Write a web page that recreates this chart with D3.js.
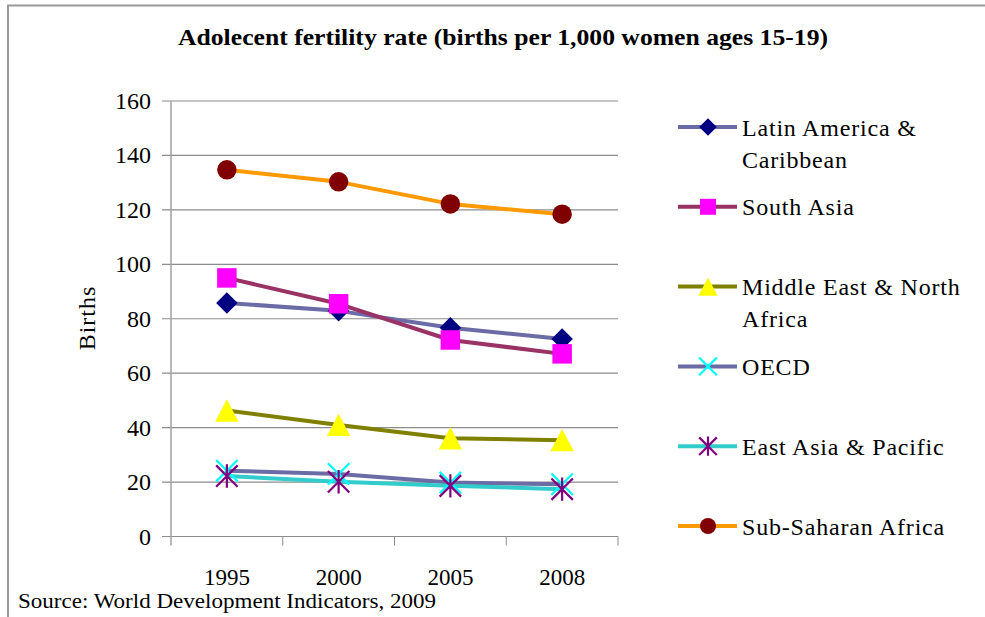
<!DOCTYPE html>
<html><head><meta charset="utf-8">
<script src="https://cdn.jsdelivr.net/npm/d3@7"></script>
</head><body style="margin:0;background:#fff">
<div id="wrap"></div>
<script>
const title = "Adolecent fertility rate (births per 1,000 women ages 15-19)";
const yLabel = "Births";
const source = "Source: World Development Indicators, 2009";
const years = ["1995", "2000", "2005", "2008"];
const yTicks = [0, 20, 40, 60, 80, 100, 120, 140, 160];
const seriesNames = [["Latin America &", "Caribbean"], ["South Asia"], ["Middle East & North", "Africa"], ["OECD"], ["East Asia & Pacific"], ["Sub-Saharan Africa"]];
const latinAmerica = [85.8, 82.9, 76.7, 72.6];
const southAsia = [95.0, 85.5, 72.2, 67.1];
const middleEast = [46.3, 41.0, 36.1, 35.4];
const oecd = [24.2, 23.0, 19.8, 19.2];
const eastAsia = [22.2, 20.1, 18.6, 17.4];
const subSaharan = [134.7, 130.3, 122.2, 118.4];

const styles = [
  {line: "#6b6ba6", fill: "#000080", shape: "diamond"},
  {line: "#993366", fill: "#ff00ff", shape: "square"},
  {line: "#808000", fill: "#ffff00", shape: "triangle"},
  {line: "#6b6ba6", fill: "#00ffff", shape: "x"},
  {line: "#33cccc", fill: "#800080", shape: "asterisk"},
  {line: "#ff9900", fill: "#800000", shape: "circle"}
];
const seriesData = [latinAmerica, southAsia, middleEast, oecd, eastAsia, subSaharan];
const FONT = "Times New Roman";

const svg = d3.select("#wrap").append("svg").attr("width", 985).attr("height", 617)
  .style("display", "block").attr("font-family", FONT);
function txt(parent, size) {
  return parent.append("text").attr("font-family", FONT).attr("font-size", size).attr("fill", "#000");
}
// frame
svg.append("path").attr("d", "M8,617 V5.5 H985").attr("fill", "none").attr("stroke", "#9a9a9a").attr("stroke-width", 2);

const x = d3.scaleBand().domain(years).range([171, 618]).padding(0);
const y = d3.scaleLinear().domain([0, 160]).range([536.5, 101]);

// gridlines
const grid = svg.append("g");
grid.selectAll("line").data(yTicks).join("line")
  .attr("x1", 162).attr("x2", 618).attr("y1", d => y(d)).attr("y2", d => y(d))
  .attr("stroke", "#8c8c8c").attr("stroke-width", 1.2);
// y axis line
svg.append("line").attr("x1", 171).attr("x2", 171).attr("y1", y(160)).attr("y2", y(0) + 9)
  .attr("stroke", "#a0a0a0").attr("stroke-width", 1.5);
yTicks.forEach(t => {
  txt(svg, 24).attr("x", 151).attr("y", y(t) + 8).attr("text-anchor", "end").text(t);
});

// x axis ticks
const bounds = years.map(d => x(d)).concat([x(years[years.length - 1]) + x.bandwidth()]);
svg.selectAll("line.t").data(bounds.slice(1)).join("line").attr("class", "t")
  .attr("x1", d => d).attr("x2", d => d).attr("y1", y(0)).attr("y2", y(0) + 9).attr("stroke", "#8c8c8c");
years.forEach(d => {
  txt(svg, 23).attr("x", x(d) + x.bandwidth() / 2).attr("y", 585).attr("text-anchor", "middle").text(d);
});

// marker path
function markerPath(shape, s) {
  const h = s / 2;
  switch (shape) {
    case "diamond": return `M0,${-h*1.1}L${h*1.1},0L0,${h*1.1}L${-h*1.1},0Z`;
    case "square": return `M${-h},${-h}H${h}V${h}H${-h}Z`;
    case "triangle": return `M0,${-h*1.15}L${h*1.2},${h*1.15}L${-h*1.2},${h*1.15}Z`;
    case "circle": return d3.symbol(d3.symbolCircle, Math.PI * h * h)();
    case "x": return `M${-h*1.1},${-h*1.1}L${h*1.1},${h*1.1}M${-h*1.1},${h*1.1}L${h*1.1},${-h*1.1}`;
    case "asterisk": return `M${-h*1.1},${-h*1.1}L${h*1.1},${h*1.1}M${-h*1.1},${h*1.1}L${h*1.1},${-h*1.1}M0,${-h*1.2}V${h*1.2}`;
  }
}
function drawMarker(g, st, size) {
  const stroked = st.shape === "x" || st.shape === "asterisk";
  g.append("path").attr("d", markerPath(st.shape, size))
    .attr("fill", stroked ? "none" : st.fill)
    .attr("stroke", stroked ? st.fill : "none")
    .attr("stroke-width", stroked ? 2.2 : 0);
}

const line = d3.line().x((d, i) => x(years[i]) + x.bandwidth() / 2).y(d => y(d));
seriesData.forEach((vals, k) => {
  const st = styles[k];
  svg.append("path").datum(vals).attr("d", line).attr("fill", "none")
    .attr("stroke", st.line).attr("stroke-width", 4).attr("stroke-linejoin", "round");
});
seriesData.forEach((vals, k) => {
  const st = styles[k];
  vals.forEach((v, i) => {
    const g = svg.append("g").attr("transform", `translate(${x(years[i]) + x.bandwidth() / 2},${y(v)})`);
    drawMarker(g, st, 19.5);
  });
});

// legend
const legendY = d3.scalePoint().domain(d3.range(seriesNames.length)).range([127, 526]);
seriesNames.forEach((lines, k) => {
  const st = styles[k];
  const ly = legendY(k);
  const g = svg.append("g").attr("transform", `translate(0,${ly})`);
  g.append("line").attr("x1", 678).attr("x2", 737).attr("stroke", st.line).attr("stroke-width", 4);
  const mg = g.append("g").attr("transform", "translate(708,0)");
  drawMarker(mg, st, 16);
  lines.forEach((ln, j) => txt(g, 24).attr("x", 742).attr("y", 8.5 + j * 32)
    .attr("letter-spacing", 0.8).text(ln));
});

// title
txt(svg, 23).attr("x", 503).attr("y", 45).attr("text-anchor", "middle")
  .attr("font-weight", "bold")
  .attr("textLength", 650).attr("lengthAdjust", "spacingAndGlyphs").text(title);

// y label
txt(svg, 24).attr("transform", "translate(95,318) rotate(-90)").attr("text-anchor", "middle")
  .attr("letter-spacing", 1).text(yLabel);

// source
txt(svg, 20).attr("x", 18).attr("y", 608)
  .attr("textLength", 418).attr("lengthAdjust", "spacingAndGlyphs").text(source);
</script>
</body></html>
